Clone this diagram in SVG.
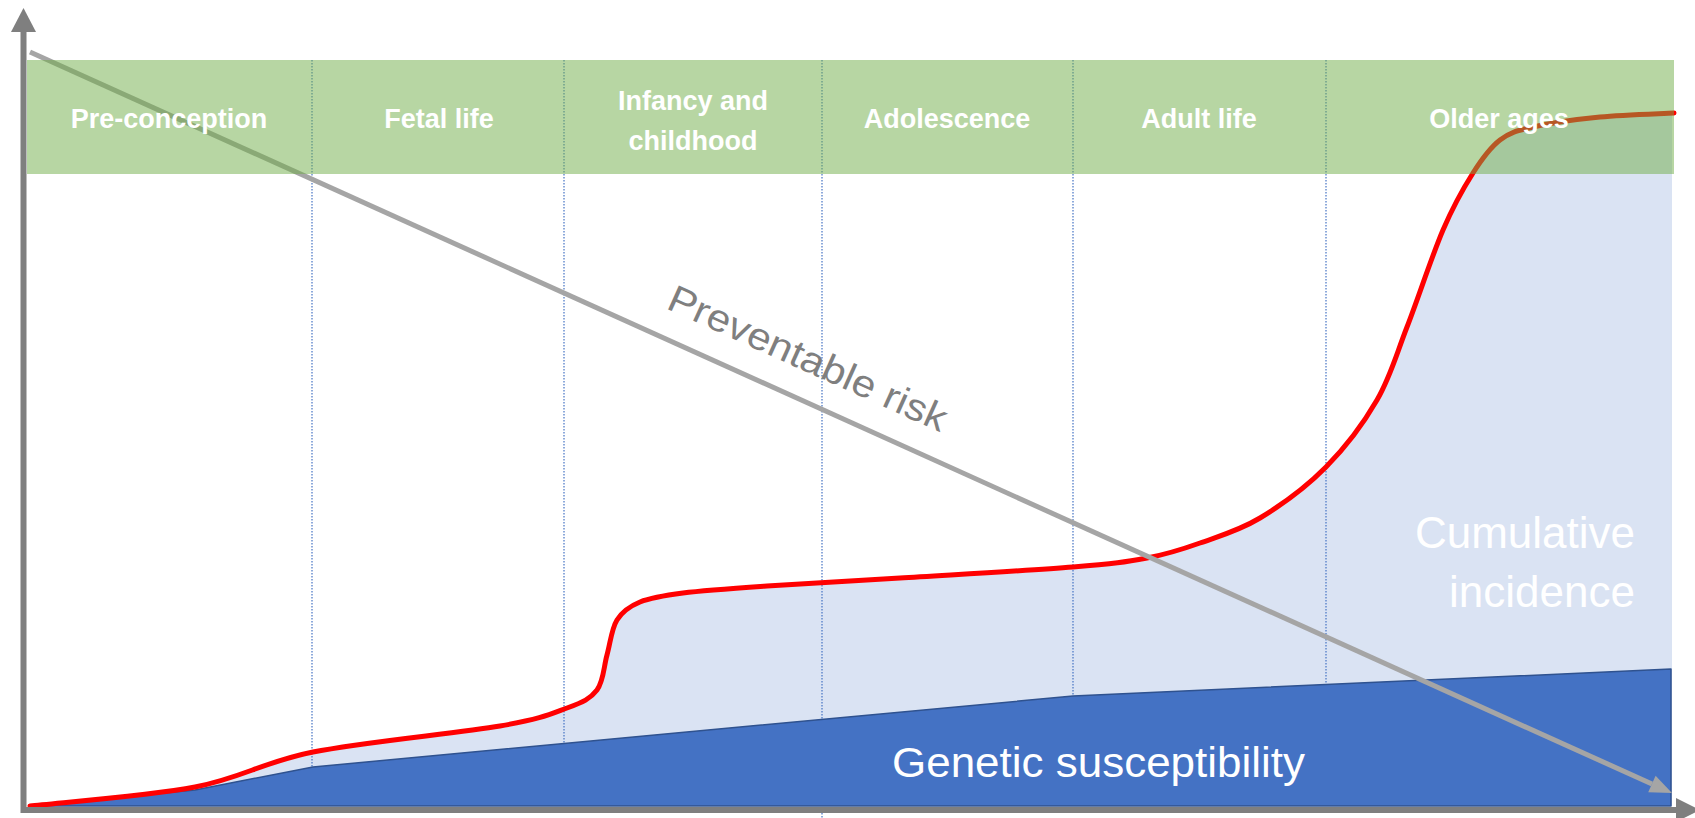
<svg xmlns="http://www.w3.org/2000/svg" width="1695" height="818" viewBox="0 0 1695 818">
<style>
.band-label{font-family:"Liberation Sans",Arial,sans-serif;font-weight:bold;font-size:27px;fill:#FFFFFF;text-anchor:middle}
.divider{stroke:#4472C4;stroke-width:1.2;stroke-dasharray:1.5 1.5;fill:none}
.big-label{font-family:"Liberation Sans",Arial,sans-serif;fill:#FFFFFF}
.axis{stroke:#7F7F7F;stroke-width:6;fill:none}
</style>
<defs>
<path id="curve" d="M30,806 C57.5,802.8 147.8,796 195,787 C242.2,778 262.2,762.2 313,752 C363.8,741.8 457.7,733.3 500,726 C542.3,718.7 550.8,714 567,708 C583.2,702 590.3,698.8 597,690 C603.7,681.2 603.7,666.7 607,655 C610.3,643.3 611.5,628.8 617,620 C622.5,611.2 629,606.5 640,602 C651,597.5 661.8,595.7 683,593 C704.2,590.3 730.8,588.5 767,586 C803.2,583.5 849,581.2 900,578 C951,574.8 1031.8,570.3 1073,567 C1114.2,563.7 1125.8,562 1147,558 C1168.2,554 1181.2,549.7 1200,543 C1218.8,536.3 1239,530.7 1260,518 C1281,505.3 1306.5,486.7 1326,467 C1345.5,447.3 1363.5,423.3 1377,400 C1390.5,376.7 1396,355.3 1407,327 C1418,298.7 1432,255.7 1443,230 C1454,204.3 1463.5,188 1473,173 C1482.5,158 1490,147.7 1500,140 C1510,132.3 1516.3,130.8 1533,127 C1549.7,123.2 1576.5,119.3 1600,117 C1623.5,114.7 1661.7,113.7 1674,113"/>
</defs>
<rect x="0" y="0" width="1695" height="818" fill="#FFFFFF"/>

<g id="cumulative-incidence-area">
<path d="M30,806 C57.5,802.8 147.8,796 195,787 C242.2,778 262.2,762.2 313,752 C363.8,741.8 457.7,733.3 500,726 C542.3,718.7 550.8,714 567,708 C583.2,702 590.3,698.8 597,690 C603.7,681.2 603.7,666.7 607,655 C610.3,643.3 611.5,628.8 617,620 C622.5,611.2 629,606.5 640,602 C651,597.5 661.8,595.7 683,593 C704.2,590.3 730.8,588.5 767,586 C803.2,583.5 849,581.2 900,578 C951,574.8 1031.8,570.3 1073,567 C1114.2,563.7 1125.8,562 1147,558 C1168.2,554 1181.2,549.7 1200,543 C1218.8,536.3 1239,530.7 1260,518 C1281,505.3 1306.5,486.7 1326,467 C1345.5,447.3 1363.5,423.3 1377,400 C1390.5,376.7 1396,355.3 1407,327 C1418,298.7 1432,255.7 1443,230 C1454,204.3 1463.5,188 1473,173 C1482.5,158 1490,147.7 1500,140 C1510,132.3 1516.3,130.8 1533,127 C1549.7,123.2 1576.5,119.3 1600,117 C1623.5,114.7 1661.7,113.7 1672,113 L1672,806 Z" fill="#DAE3F3"/>
<text class="big-label" x="1635" y="548" font-size="44" text-anchor="end">Cumulative</text>
<text class="big-label" x="1635" y="607" font-size="44" text-anchor="end">incidence</text>
</g>

<g id="dividers">
<line class="divider" x1="312" y1="60" x2="312" y2="806"/>
<line class="divider" x1="564" y1="60" x2="564" y2="806"/>
<line class="divider" x1="822" y1="60" x2="822" y2="818"/>
<line class="divider" x1="1073" y1="60" x2="1073" y2="806"/>
<line class="divider" x1="1326" y1="60" x2="1326" y2="806"/>
</g>

<g id="genetic-susceptibility">
<polygon points="30,806 195,790 313,767 1073,696 1671,669 1671,806" fill="#4472C4" stroke="#2F528F" stroke-width="1.5" stroke-linejoin="round"/>
<text class="big-label" x="892" y="777" font-size="42" textLength="413" lengthAdjust="spacingAndGlyphs">Genetic susceptibility</text>
</g>

<g id="incidence-curve">
<use href="#curve" fill="none" stroke="#FF0000" stroke-width="5" stroke-linecap="round"/>
</g>

<g id="connectors">
<line x1="30" y1="52" x2="1652" y2="784" stroke="#A5A5A5" stroke-width="5"/>
<polygon points="1672,793 1648.2,792.2 1655.6,775.7" fill="#A5A5A5"/>
</g>

<g id="preventable-risk-label">
<text x="0" y="0" transform="translate(665,308) rotate(24.3)" font-family="Liberation Sans, Arial, sans-serif" font-size="38" fill="#7F7F7F" textLength="302" lengthAdjust="spacingAndGlyphs">Preventable risk</text>
</g>

<g id="life-stages-band">
<rect x="27" y="60" width="1647" height="114" fill="#70AD47" fill-opacity="0.5"/>
</g>

<g id="stage-pre-conception"><text class="band-label" x="169" y="128">Pre-conception</text></g>
<g id="stage-fetal-life"><text class="band-label" x="439" y="128">Fetal life</text></g>
<g id="stage-infancy"><text class="band-label" x="693" y="110">Infancy and</text><text class="band-label" x="693" y="150">childhood</text></g>
<g id="stage-adolescence"><text class="band-label" x="947" y="128">Adolescence</text></g>
<g id="stage-adult-life"><text class="band-label" x="1199" y="128">Adult life</text></g>
<g id="stage-older-ages"><text class="band-label" x="1499" y="128">Older ages</text></g>

<g id="axes">
<line class="axis" x1="23.5" y1="30" x2="23.5" y2="813"/>
<polygon points="23.5,8 11,32 36,32" fill="#7F7F7F"/>
<line class="axis" x1="21" y1="810" x2="1680" y2="810"/>
<polygon points="1676,798 1700,810 1676,822" fill="#7F7F7F"/>
</g>
</svg>
